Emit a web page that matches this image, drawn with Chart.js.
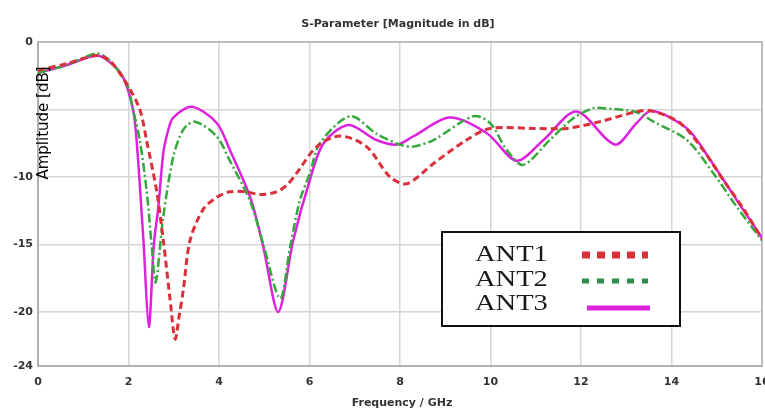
<!DOCTYPE html>
<html>
<head>
<meta charset="UTF-8">
<title>S-Parameter</title>
<script src="https://cdn.jsdelivr.net/npm/chart.js"></script>
<style>
    body { margin: 0; background: #fff; }
    canvas { display: block; }
</style>
</head>
<body>
<canvas id="myChart" width="765" height="412"></canvas>
<script>
// 読み取った値 (GHz, dB)
const ant1Freq = [0, 0.64, 1.3, 1.59, 1.96, 2.25, 2.4, 2.62, 2.77, 2.92, 3.03, 3.12, 3.21, 3.36, 3.65, 3.95, 4.24, 4.6, 4.91, 5.27, 5.5, 5.72, 6.16, 6.67, 7.26, 7.78, 8.15, 8.74, 9.47, 9.99, 10.95, 11.68, 12.42, 13.23, 13.55, 14.19, 14.7, 15.14, 15.6, 16];
const ant1Db   = [-2.1, -1.6, -1.0, -1.4, -3.1, -5.0, -7.3, -11.0, -14.7, -19.1, -22.0, -20.3, -18.4, -14.7, -12.4, -11.5, -11.1, -11.1, -11.3, -11.1, -10.6, -9.7, -7.75, -6.96, -7.75, -10.0, -10.5, -9.0, -7.26, -6.4, -6.4, -6.4, -5.9, -5.16, -5.1, -6.0, -8.0, -10.2, -12.4, -14.6];

const ant2Freq = [0, 0.64, 1.3, 1.59, 1.96, 2.1, 2.25, 2.4, 2.51, 2.6, 2.77, 2.99, 3.21, 3.47, 3.95, 4.24, 4.69, 4.98, 5.35, 5.57, 5.79, 6.01, 6.23, 6.9, 7.48, 8.0, 8.29, 8.74, 9.62, 9.99, 10.36, 10.72, 11.31, 11.83, 12.27, 12.49, 13.23, 13.6, 14.34, 14.92, 15.44, 16];
const ant2Db   = [-2.3, -1.7, -0.85, -1.4, -3.1, -5.0, -7.3, -11.0, -15.0, -17.8, -12.9, -8.5, -6.5, -5.9, -7.0, -8.8, -11.8, -15.0, -19.0, -15.2, -11.7, -9.7, -7.5, -5.5, -6.8, -7.6, -7.75, -7.26, -5.5, -6.0, -8.0, -9.1, -7.26, -5.65, -4.9, -4.9, -5.2, -5.9, -7.26, -9.7, -12.2, -14.7];

const ant3Freq = [0, 0.64, 1.3, 1.59, 1.88, 2.1, 2.18, 2.33, 2.45, 2.56, 2.66, 2.77, 2.88, 2.99, 3.4, 3.95, 4.24, 4.69, 4.98, 5.31, 5.64, 6.01, 6.31, 6.86, 7.48, 7.93, 8.29, 9.1, 9.92, 10.58, 11.17, 11.9, 12.75, 13.23, 13.56, 14.34, 14.85, 15.44, 16];
const ant3Db   = [-2.3, -1.7, -1.0, -1.5, -2.6, -5.0, -7.3, -14.7, -21.1, -15.0, -12.2, -8.2, -6.5, -5.6, -4.8, -6.0, -8.0, -11.5, -15.2, -20.0, -14.7, -10.2, -7.5, -6.15, -7.26, -7.6, -7.0, -5.6, -6.76, -8.8, -7.26, -5.15, -7.6, -6.0, -5.1, -6.4, -8.7, -11.7, -14.5];

const seriesNames = ['ANT1', 'ANT2', 'ANT3'];
const yTicks = [0, -5, -10, -15, -20, -24];

function toPoints(fs, ds) {
    return fs.map((f, i) => ({ x: f, y: ds[i] }));
}

const tickFont = { family: 'DejaVu Sans', size: 11, weight: 'bold' };

// タイトル・軸名・凡例を手で描く
const overlay = {
    id: 'overlay',
    beforeDatasetsDraw(chart) {
        const { ctx, chartArea: a } = chart;
        ctx.save();
        ctx.strokeStyle = '#b4b4b4';
        ctx.lineWidth = 1.5;
        ctx.strokeRect(a.left, a.top, a.right - a.left, a.bottom - a.top);
        ctx.restore();
    },
    afterDraw(chart) {
        const { ctx } = chart;
        ctx.save();
        ctx.fillStyle = '#333';
        ctx.textAlign = 'center';
        ctx.textBaseline = 'middle';
        ctx.font = 'bold 11px "DejaVu Sans"';
        ctx.fillText('S-Parameter [Magnitude in dB]', 398, 24);
        ctx.fillText('Frequency / GHz', 402, 403);

        // 縦軸名（プロットに重なっている）
        ctx.save();
        ctx.translate(44, 123);
        ctx.rotate(-Math.PI / 2);
        ctx.fillStyle = '#000';
        ctx.font = '15px "DejaVu Sans"';
        ctx.fillText('Amplitude [dB]', 0, 0);
        ctx.restore();

        // 凡例
        ctx.fillStyle = '#fff';
        ctx.fillRect(442, 232, 238, 94);
        ctx.strokeStyle = '#111';
        ctx.lineWidth = 2;
        ctx.strokeRect(442, 232, 238, 94);

        const rows = [254, 279, 303];
        ctx.fillStyle = '#1a1a1a';
        ctx.font = '23px "Liberation Serif"';
        ctx.textAlign = 'left';
        rows.forEach((y, i) => {
            ctx.save();
            ctx.translate(475, y);
            ctx.scale(1.24, 1);
            ctx.fillText(seriesNames[i], 0, 1);
            ctx.restore();
        });

        const ds = chart.data.datasets;
        ctx.lineCap = 'butt';
        ctx.strokeStyle = ds[0].borderColor;
        ctx.lineWidth = 7;
        ctx.setLineDash([8, 7]);
        ctx.beginPath(); ctx.moveTo(582, 255); ctx.lineTo(648, 255); ctx.stroke();

        ctx.strokeStyle = '#2e8b4a';
        ctx.lineWidth = 5;
        ctx.setLineDash([7, 8]);
        ctx.beginPath(); ctx.moveTo(582, 281); ctx.lineTo(648, 281); ctx.stroke();

        ctx.strokeStyle = ds[2].borderColor;
        ctx.lineWidth = 5;
        ctx.setLineDash([]);
        ctx.beginPath(); ctx.moveTo(587, 308); ctx.lineTo(650, 308); ctx.stroke();
        ctx.restore();
    }
};

const ctx = document.getElementById('myChart').getContext('2d');
const myChart = new Chart(ctx, {
    type: 'line',
    data: {
        datasets: [
            {
                label: seriesNames[0],
                data: toPoints(ant1Freq, ant1Db),
                borderColor: '#d9303a',
                borderWidth: 3,
                borderDash: [7, 4],
                pointRadius: 0,
                tension: 0.3
            },
            {
                label: seriesNames[1],
                data: toPoints(ant2Freq, ant2Db),
                borderColor: '#34a83c',
                borderWidth: 2.5,
                borderDash: [9, 3, 2, 3],
                pointRadius: 0,
                tension: 0.3
            },
            {
                label: seriesNames[2],
                data: toPoints(ant3Freq, ant3Db),
                borderColor: '#dd22dd',
                borderWidth: 2.5,
                pointRadius: 0,
                tension: 0.3
            }
        ]
    },
    options: {
        responsive: false,
        animation: false,
        layout: { padding: { top: 42, right: 3, left: 0, bottom: 0 } },
        plugins: {
            legend: { display: false },
            title: { display: false },
            tooltip: { enabled: false }
        },
        scales: {
            x: {
                type: 'linear',
                min: 0,
                max: 16,
                ticks: { stepSize: 2, font: tickFont, color: '#333', padding: 10 },
                grid: { color: '#d6d6d6', lineWidth: 1.5, drawTicks: false },
                border: { color: '#aaa', width: 2 },
                afterFit(scale) {
                    scale.height = 46;
                    scale.paddingLeft = 0;
                    scale.paddingRight = 0;
                }
            },
            y: {
                type: 'linear',
                min: -24,
                max: 0,
                afterBuildTicks(scale) {
                    scale.ticks = yTicks.map(v => ({ value: v }));
                },
                ticks: {
                    font: tickFont,
                    color: '#333',
                    padding: 5,
                    callback: v => (v === -5 ? '' : v)
                },
                grid: { color: '#d6d6d6', lineWidth: 1.5, drawTicks: false },
                border: { color: '#aaa', width: 2 },
                afterFit(scale) {
                    scale.width = 38;
                }
            }
        }
    },
    plugins: [overlay]
});
</script>
</body>
</html>
